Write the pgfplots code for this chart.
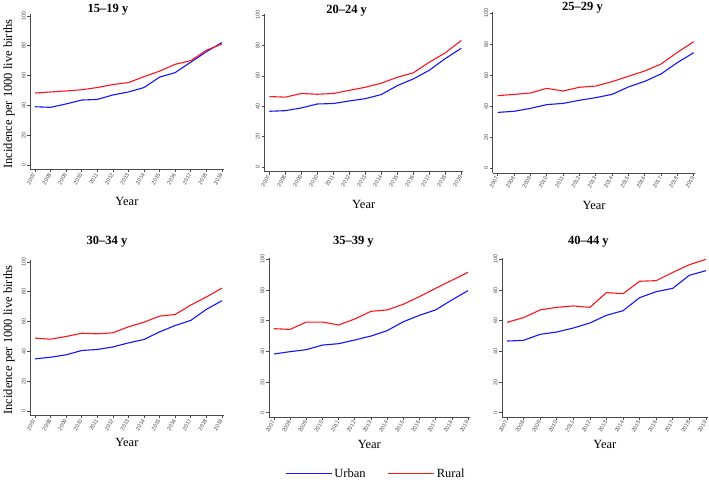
\documentclass[border=0pt]{standalone}
\usepackage{fontspec}
\setmainfont{Liberation Serif}
\setsansfont{Liberation Sans}
\usepackage{pgfplots}
\pgfplotsset{compat=1.18}

\definecolor{urban}{RGB}{20,20,255}
\definecolor{rural}{RGB}{255,20,30}
\definecolor{axgray}{RGB}{75,75,75}

\pgfplotsset{
  every axis title/.style={at={(0.5,1)}, anchor=center,
    font=\fontsize{12.5}{14}\selectfont\bfseries},
  panel/.style={
    scale only axis,
    xmin=2006.7, xmax=2019.1,
    ymin=-3, ymax=101,
    axis x line*=bottom, axis y line*=left,
    axis line style={axgray, line width=0.8pt, -},
    xtick={2007,...,2019},
    ytick={0,20,...,100},
    tick style={axgray, line width=0.6pt},
    tick align=outside,
    major tick length=3pt,
    /pgf/number format/assume math mode=true,
    /pgf/number format/1000 sep={},
    xticklabel style={font=\fontsize{5.5}{6}\sffamily, text=axgray, rotate=60, anchor=east, inner sep=1pt},
    yticklabel style={font=\fontsize{5.5}{6}\sffamily, text=axgray, rotate=90, anchor=south, inner sep=1.5pt},
    label style={font=\fontsize{12.5}{14}\selectfont},
    xlabel={Year},
    every axis plot/.append style={line width=1.1pt, no markers},
  },
}

\begin{document}
\begin{tikzpicture}
\useasboundingbox (0,0) rectangle (709pt,484pt);

% 15-19 y
\begin{axis}[panel, at={(30.3pt,314.5pt)}, anchor=south west,
  width=193.2pt, height=155pt,
  title={15–19 y}, title style={at={(0.402,1.029)}},
  xlabel style={at={(0.5,-0.207)}, anchor=center},
  ylabel={Incidence per 1000 live births},
  ylabel style={at={(-0.11,0.487)}, anchor=center}]
\addplot[urban] coordinates {(2007,39.1) (2008,38.7) (2009,41.0) (2010,43.6) (2011,44.0) (2012,47.0) (2013,49.0) (2014,52.0) (2015,59.0) (2016,62.0) (2017,69.0) (2018,76.0) (2019,82.2)};
\addplot[rural] coordinates {(2007,48.3) (2008,49.0) (2009,49.7) (2010,50.5) (2011,52.0) (2012,54.0) (2013,55.3) (2014,59.3) (2015,63.0) (2016,67.6) (2017,70.0) (2018,77.0) (2019,81.2)};
\end{axis}

% 20-24 y
\begin{axis}[panel, at={(264.5pt,312.4pt)}, anchor=south west,
  width=198.4pt, height=158pt,
  title={20–24 y}, title style={at={(0.414,1.016)}},
  xlabel style={at={(0.5,-0.205)}, anchor=center}]
\addplot[urban] coordinates {(2007,36.7) (2008,37.1) (2009,38.9) (2010,41.5) (2011,41.8) (2012,43.5) (2013,45.0) (2014,47.7) (2015,53.6) (2016,58.0) (2017,63.7) (2018,71.4) (2019,78.2)};
\addplot[rural] coordinates {(2007,46.4) (2008,46.0) (2009,48.4) (2010,47.9) (2011,48.4) (2012,50.5) (2013,52.5) (2014,55.2) (2015,59.1) (2016,62.0) (2017,69.0) (2018,75.2) (2019,83.3)};
\end{axis}

% 25-29 y
\begin{axis}[panel, at={(492.8pt,311pt)}, anchor=south west,
  width=202.5pt, height=161.2pt,
  title={25–29 y}, title style={at={(0.443,1.024)}},
  xlabel style={at={(0.5,-0.2)}, anchor=center}]
\addplot[urban] coordinates {(2007,36.1) (2008,36.8) (2009,38.7) (2010,41.1) (2011,41.9) (2012,43.9) (2013,45.6) (2014,47.7) (2015,52.5) (2016,56.1) (2017,60.9) (2018,68.2) (2019,74.6)};
\addplot[rural] coordinates {(2007,46.9) (2008,47.7) (2009,48.6) (2010,51.6) (2011,49.9) (2012,52.3) (2013,53.1) (2014,55.9) (2015,59.4) (2016,62.8) (2017,67.3) (2018,74.8) (2019,81.7)};
\end{axis}

% 30-34 y
\begin{axis}[panel, at={(30.3pt,68.5pt)}, anchor=south west,
  width=193.2pt, height=155pt,
  title={30–34 y}, title style={at={(0.397,1.121)}},
  xlabel style={at={(0.5,-0.177)}, anchor=center},
  ylabel={Incidence per 1000 live births},
  ylabel style={at={(-0.11,0.487)}, anchor=center}]
\addplot[urban] coordinates {(2007,35.0) (2008,36.1) (2009,37.7) (2010,40.6) (2011,41.3) (2012,43.0) (2013,45.7) (2014,48.0) (2015,53.1) (2016,57.4) (2017,60.8) (2018,68.2) (2019,74.0)};
\addplot[rural] coordinates {(2007,48.9) (2008,48.2) (2009,50.0) (2010,52.2) (2011,51.8) (2012,52.5) (2013,56.5) (2014,59.6) (2015,63.7) (2016,64.8) (2017,71.1) (2018,76.5) (2019,82.5)};
\end{axis}

% 35-39 y, with the legend below it
\begin{axis}[panel, at={(269.1pt,66.7pt)}, anchor=south west,
  width=200.5pt, height=159.5pt,
  title={35–39 y}, title style={at={(0.42,1.101)}},
  xlabel style={at={(0.5,-0.17)}, anchor=center},
  legend style={at={(0.533,-0.355)}, anchor=center, draw=white, fill=white,
    legend columns=2, font=\fontsize{12.5}{14}\selectfont,
    /tikz/every even column/.append style={column sep=20pt}},
  legend image code/.code={\draw[#1] (0pt,0pt) -- (46pt,0pt);}]
\addlegendimage{color=urban, line width=1.1pt}
\addlegendentry{Urban}
\addlegendimage{color=rural, line width=1.1pt}
\addlegendentry{Rural}
\addplot[urban, forget plot] coordinates {(2007,38.3) (2008,39.8) (2009,41.1) (2010,44.1) (2011,45.0) (2012,47.4) (2013,50.0) (2014,53.5) (2015,59.3) (2016,63.5) (2017,67.0) (2018,73.5) (2019,79.6)};
\addplot[rural, forget plot] coordinates {(2007,54.8) (2008,54.3) (2009,59.1) (2010,59.1) (2011,57.2) (2012,61.1) (2013,66.1) (2014,67.0) (2015,70.7) (2016,75.7) (2017,81.1) (2018,86.3) (2019,91.5)};
\end{axis}

% 40-44 y
\begin{axis}[panel, at={(502pt,66.7pt)}, anchor=south west,
  width=205.6pt, height=159.5pt,
  title={40–44 y}, title style={at={(0.42,1.101)}},
  xlabel style={at={(0.5,-0.17)}, anchor=center}]
\addplot[urban] coordinates {(2007,46.7) (2008,47.2) (2009,51.1) (2010,52.6) (2011,55.2) (2012,58.5) (2013,63.5) (2014,66.5) (2015,75.0) (2016,78.9) (2017,81.1) (2018,89.6) (2019,92.6)};
\addplot[rural] coordinates {(2007,58.9) (2008,62.0) (2009,67.0) (2010,68.7) (2011,69.6) (2012,68.7) (2013,78.3) (2014,77.6) (2015,85.7) (2016,86.1) (2017,91.5) (2018,96.5) (2019,100.0)};
\end{axis}
\end{tikzpicture}
\end{document}
